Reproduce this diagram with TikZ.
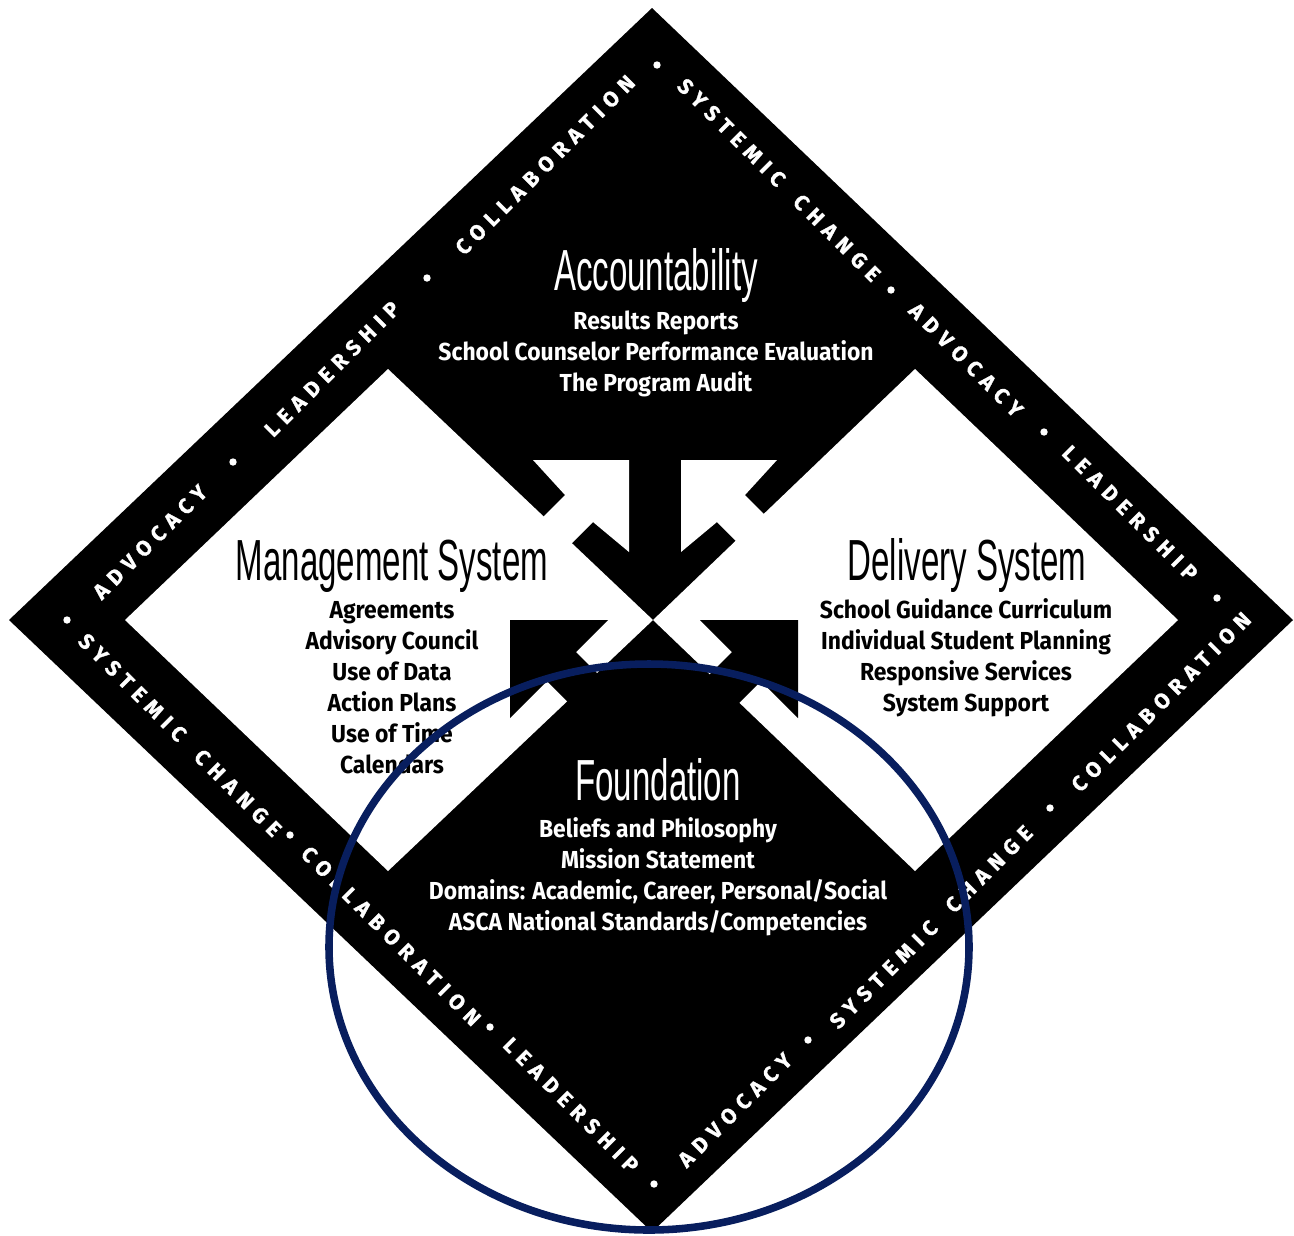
\documentclass[tikz,border=0pt]{standalone}
\usepackage{fontspec}
\setmainfont{Liberation Sans}
\newfontfamily\titlefont[FakeStretch=0.57]{Liberation Sans}
\newfontfamily\itemfont[FakeStretch=0.93]{Fira Sans}
\newfontfamily\bandfont[LetterSpace=32,FakeBold=1.2]{Fira Sans}
\definecolor{ringblue}{RGB}{8,30,94}

\begin{document}
\begin{tikzpicture}[x=0.02cm,y=-0.02cm]
  \tikzstyle{TitleStyle}=[font=\titlefont\fontsize{33}{36}\selectfont,inner sep=0pt,anchor=base]
  \tikzstyle{ItemStyle}=[font=\itemfont\bfseries\fontsize{14}{16}\selectfont,inner sep=0pt,anchor=base]
  \tikzstyle{BandStyle}=[font=\bandfont\bfseries\fontsize{12.2}{13}\selectfont,text=white,inner sep=0pt]
  \useasboundingbox (0,0) rectangle (1294,1235);
  % black frame and the two white fields
  \fill (652,8) -- (1293,620) -- (652,1232) -- (9,620) -- cycle;
  \fill[white] (125,620) -- (388,369) -- (653,620) -- (388,871) -- cycle;
  \fill[white] (1178,620) -- (915,369) -- (653,620) -- (915,871) -- cycle;
  % arrow coming down from the top field
  \fill[white] (533,460) -- (629,460) -- (629,552) -- (593,522) -- (570,545) -- (542,518) -- (565,495) -- cycle;
  \fill[white] (777,460) -- (681,460) -- (681,552) -- (717,522) -- (740,545) -- (768,518) -- (745,495) -- cycle;
  % arrows going up from the bottom field
  \fill (510,620) -- (608,620) -- (510,718) -- cycle;
  \fill (574,650) -- (600,676) -- (571,705) -- (545,679) -- cycle;
  \fill (798,620) -- (700,620) -- (798,718) -- cycle;
  \fill (734,650) -- (708,676) -- (737,705) -- (763,679) -- cycle;
  % words on the frame
  \foreach \w/\x/\y/\r [count=\i] in {ADVOCACY/150/542/45, LEADERSHIP/332/369/45, COLLABORATION/545/165/45,
      SYSTEMIC\hspace{1em}CHANGE/779/180/-45, ADVOCACY/966/360/-45, LEADERSHIP/1130/513/-45,
      COLLABORATION/1161/702/45, SYSTEMIC\hspace{1em}CHANGE/931/927/45, ADVOCACY/735/1110/45,
      SYSTEMIC\hspace{1em}CHANGE/180/735/-45, COLLABORATION/391/936/-45, LEADERSHIP/571/1105/-45}
    \node[BandStyle,rotate=\r] (band\i) at (\x,\y) {\w};
  \foreach \x/\y in {67/620, 233/462, 427/278, 657/65, 891/290, 1044/432, 1217/598,
      1050/808, 808/1040, 654/1184, 290/835, 490/1027}
    \fill[white] (\x,\y) circle (3.7);
  % the four fields
  \node[TitleStyle,text=white] (acc) at (656,290) {Accountability};
  \foreach \t [count=\i] in {Results Reports, School Counselor Performance Evaluation, The Program Audit}
    \node[ItemStyle,text=white] (acc\i) at (656,298+31*\i) {\t};
  \node[TitleStyle] (mgmt) at (392,580) {Management System};
  \foreach \t [count=\i] in {Agreements, Advisory Council, Use of Data, Action Plans, Use of Time, Calendars}
    \node[ItemStyle] (mgmt\i) at (392,587+31*\i) {\t};
  \node[TitleStyle] (deliv) at (967,580) {Delivery System};
  \foreach \t [count=\i] in {School Guidance Curriculum, Individual Student Planning, Responsive Services, System Support}
    \node[ItemStyle] (deliv\i) at (966,587+31*\i) {\t};
  \node[TitleStyle,text=white] (found) at (658,800) {Foundation};
  \foreach \t [count=\i] in {Beliefs and Philosophy, Mission Statement, {Domains: Academic, Career, Personal/Social}, ASCA National Standards/Competencies}
    \node[ItemStyle,text=white] (found\i) at (658,806+31*\i) {\t};
  % ring round the foundation
  \draw[ringblue,line width=4.3pt] (649,947) ellipse [x radius=320,y radius=283];
\end{tikzpicture}
\end{document}
